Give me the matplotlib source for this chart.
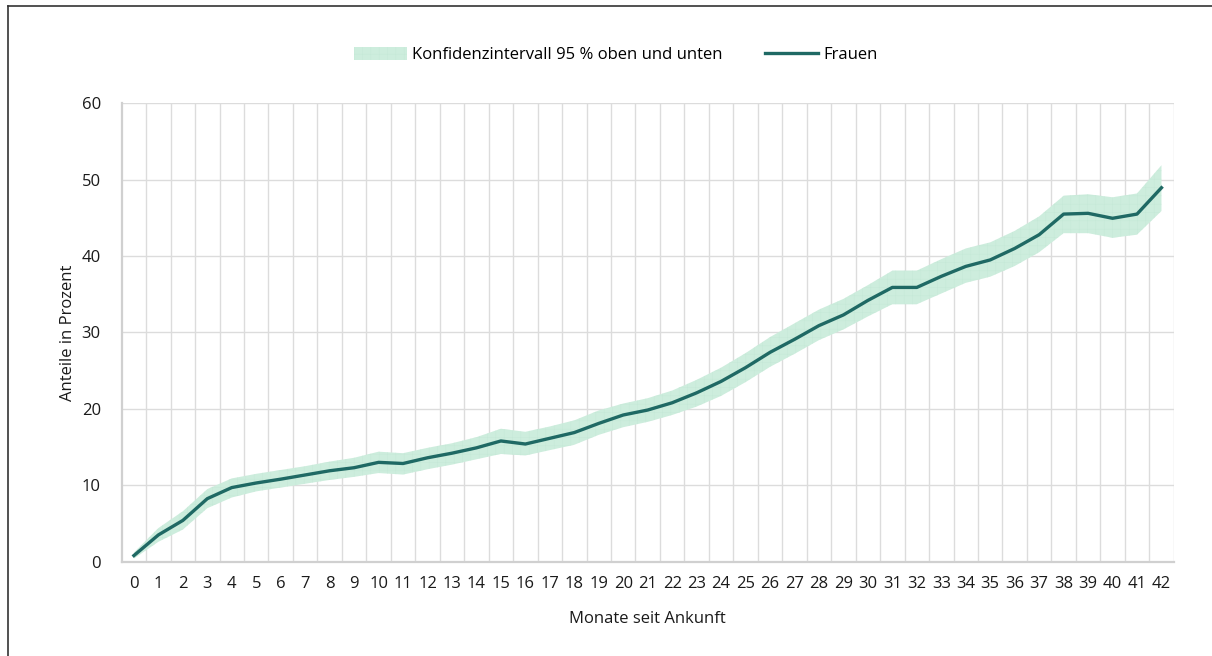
import numpy as np
import matplotlib
matplotlib.use('Agg')
import matplotlib.pyplot as plt
from matplotlib.lines import Line2D

# Daten: Anteile in Prozent je Monat seit Ankunft
monate = list(range(43))
frauen = [0.8, 3.5, 5.4, 8.25, 9.7, 10.3, 10.8, 11.35, 11.9, 12.3, 13.0, 12.85, 13.6,
          14.2, 14.9, 15.8, 15.4, 16.15, 16.9, 18.1, 19.2, 19.85, 20.8, 22.1, 23.6,
          25.4, 27.4, 29.1, 30.9, 32.3, 34.2, 35.9, 35.9, 37.35, 38.65, 39.5, 41.0,
          42.8, 45.5, 45.6, 44.95, 45.5, 48.95]
ki_unten = [0.4, 2.6, 4.2, 7.0, 8.4, 9.2, 9.7, 10.2, 10.7, 11.1, 11.6, 11.4, 12.1,
            12.7, 13.4, 14.1, 13.9, 14.6, 15.3, 16.6, 17.6, 18.3, 19.2, 20.3, 21.7,
            23.5, 25.5, 27.2, 29.0, 30.4, 32.1, 33.7, 33.7, 35.1, 36.5, 37.3, 38.7,
            40.5, 43.0, 43.0, 42.4, 42.8, 45.9]
ki_oben = [1.2, 4.4, 6.6, 9.5, 10.9, 11.5, 12.0, 12.5, 13.1, 13.6, 14.4, 14.2, 14.9,
           15.5, 16.3, 17.4, 17.0, 17.7, 18.5, 19.8, 20.7, 21.4, 22.4, 23.8, 25.4,
           27.3, 29.4, 31.2, 33.0, 34.4, 36.2, 38.1, 38.1, 39.6, 41.0, 41.8, 43.3,
           45.2, 47.9, 48.1, 47.7, 48.2, 51.9]

plt.rcParams['font.family'] = ['Open Sans', 'DejaVu Sans']
plt.rcParams['hatch.linewidth'] = 0.3

fig = plt.figure(figsize=(12.12, 6.56), dpi=100)
ax = fig.add_axes([0.1004, 0.1438, 0.868, 0.6987])

x = np.array(monate)
band = ax.fill_between(x, ki_unten, ki_oben, facecolor='#cdeddd', edgecolor='#c4e8d6',
                       hatch='++', linewidth=0, label='Konfidenzintervall 95 % oben und unten',
                       zorder=2)
linie, = ax.plot(x, frauen, color='#1f6964', linewidth=2.4, label='Frauen', zorder=3)

# Achsen
ax.set_xlim(-0.5, len(monate) - 0.5)
ax.set_ylim(0, 60)
ax.set_yticks(range(0, 61, 10))
ax.set_xticks(x)
ax.set_xticklabels([str(m) for m in monate])
ax.tick_params(axis='both', length=0, labelsize=12, colors='#1a1a1a')
ax.tick_params(axis='x', pad=10)
ax.tick_params(axis='y', pad=15)

# Gitter: horizontal an den Ticks, vertikal an den Kategoriegrenzen
for yv in range(10, 61, 10):
    ax.axhline(yv, color='#dcdcdc', linewidth=1.0, zorder=1)
for xv in np.arange(0.5, len(monate) + 0.5, 1.0):
    ax.axvline(xv, color='#dcdcdc', linewidth=1.0, zorder=1)

for s in ['top', 'right']:
    ax.spines[s].set_visible(False)
for s in ['left', 'bottom']:
    ax.spines[s].set_color('#d0d0d0')
    ax.spines[s].set_linewidth(1.6)

ax.set_xlabel('Monate seit Ankunft', fontsize=12, labelpad=14, color='#1a1a1a')
ax.set_ylabel('Anteile in Prozent', fontsize=12, labelpad=4, color='#1a1a1a')

fig.legend(handles=[band, linie], loc='center', bbox_to_anchor=(0.508, 0.916), ncol=2,
           frameon=False, fontsize=12, handlelength=3.2, handleheight=0.8,
           handletextpad=0.3, columnspacing=2.5)

# Rahmen links und oben
fig.add_artist(Line2D([0.0066, 0.0066], [0.0, 0.991], color='#333333', linewidth=1.2))
fig.add_artist(Line2D([0.0066, 1.0], [0.991, 0.991], color='#333333', linewidth=1.2))

fig.savefig('out.png', dpi=100)
